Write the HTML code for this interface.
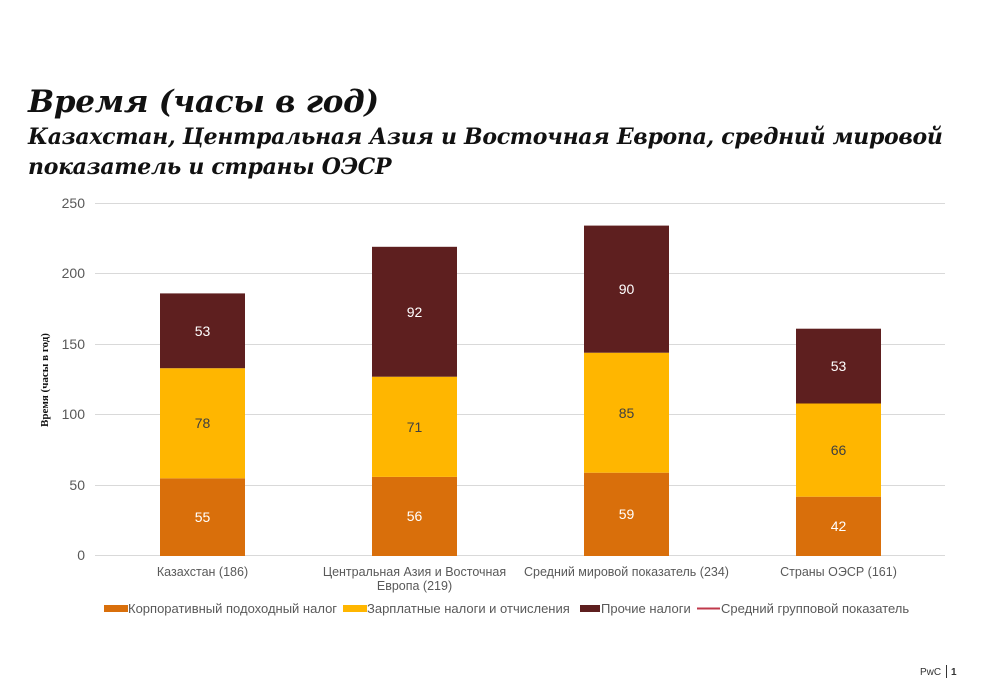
<!DOCTYPE html>
<html><head><meta charset="utf-8"><style>
body{margin:0;background:#fff;width:986px;height:697px;overflow:hidden;position:relative;font-family:"Liberation Sans",sans-serif}
.t1{position:absolute;left:28px;top:84px;font:italic bold 31px "DejaVu Serif","Liberation Serif",serif;color:#111;white-space:nowrap;letter-spacing:-0.3px}
.t2{position:absolute;left:28px;top:122px;font:italic bold 22px/30px "DejaVu Serif","Liberation Serif",serif;color:#111;white-space:nowrap;letter-spacing:-0.3px}
</style></head><body>
<div class="t1">Время (часы в год)</div>
<div class="t2">Казахстан, Центральная Азия и Восточная Европа, средний мировой<br>показатель и страны ОЭСР</div>
<svg width="986" height="697" style="position:absolute;left:0;top:0" font-family="Liberation Sans, sans-serif">
<g stroke="#d9d9d9" stroke-width="1">
<line x1="95" x2="945" y1="203.5" y2="203.5"/><line x1="95" x2="945" y1="273.5" y2="273.5"/>
<line x1="95" x2="945" y1="344.5" y2="344.5"/><line x1="95" x2="945" y1="414.5" y2="414.5"/>
<line x1="95" x2="945" y1="485.5" y2="485.5"/><line x1="95" x2="945" y1="555.5" y2="555.5"/>
</g>
<g font-size="14" fill="#595959" text-anchor="end">
<text x="85" y="208">250</text><text x="85" y="278">200</text><text x="85" y="349">150</text>
<text x="85" y="419">100</text><text x="85" y="490">50</text><text x="85" y="560">0</text>
</g>
<text transform="translate(48,380) rotate(-90)" text-anchor="middle" font-family="Liberation Serif, serif" font-weight="bold" font-size="11" fill="#111">Время (часы в год)</text>
<g>
<rect x="160" y="478.3" width="85" height="77.7" fill="#D96F0B"/>
<rect x="160" y="368.2" width="85" height="110.1" fill="#FFB600"/>
<rect x="160" y="293.4" width="85" height="74.8" fill="#5E1F1F"/>
<rect x="372" y="476.9" width="85" height="79.1" fill="#D96F0B"/>
<rect x="372" y="376.7" width="85" height="100.2" fill="#FFB600"/>
<rect x="372" y="246.8" width="85" height="129.9" fill="#5E1F1F"/>
<rect x="584" y="472.7" width="85" height="83.3" fill="#D96F0B"/>
<rect x="584" y="352.7" width="85" height="120" fill="#FFB600"/>
<rect x="584" y="225.6" width="85" height="127.1" fill="#5E1F1F"/>
<rect x="796" y="496.7" width="85" height="59.3" fill="#D96F0B"/>
<rect x="796" y="403.5" width="85" height="93.2" fill="#FFB600"/>
<rect x="796" y="328.7" width="85" height="74.8" fill="#5E1F1F"/>
</g>
<g font-size="14" text-anchor="middle">
<text x="202.5" y="522" fill="#fff">55</text><text x="202.5" y="428" fill="#404040">78</text><text x="202.5" y="336" fill="#fff">53</text>
<text x="414.5" y="521" fill="#fff">56</text><text x="414.5" y="432" fill="#404040">71</text><text x="414.5" y="317" fill="#fff">92</text>
<text x="626.5" y="519" fill="#fff">59</text><text x="626.5" y="418" fill="#404040">85</text><text x="626.5" y="294" fill="#fff">90</text>
<text x="838.5" y="531" fill="#fff">42</text><text x="838.5" y="455" fill="#404040">66</text><text x="838.5" y="371" fill="#fff">53</text>
</g>
<g font-size="12.5" fill="#595959" text-anchor="middle">
<text x="202.5" y="576">Казахстан (186)</text>
<text x="414.5" y="576">Центральная Азия и Восточная</text>
<text x="414.5" y="590">Европа (219)</text>
<text x="626.5" y="576">Средний мировой показатель (234)</text>
<text x="838.5" y="576">Страны ОЭСР (161)</text>
</g>
<g font-size="13" fill="#595959">
<rect x="104" y="605" width="24" height="7" fill="#D96F0B"/><text x="128" y="613">Корпоративный подоходный налог</text>
<rect x="343" y="605" width="24" height="7" fill="#FFB600"/><text x="367" y="613">Зарплатные налоги и отчисления</text>
<rect x="580" y="605" width="20" height="7" fill="#5E1F1F"/><text x="601" y="613">Прочие налоги</text>
<line x1="697" x2="720" y1="608.5" y2="608.5" stroke="#C0394B" stroke-width="2"/><text x="721" y="613">Средний групповой показатель</text>
</g>
<text x="920" y="675" font-size="10" fill="#333">PwC</text>
<line x1="946.5" x2="946.5" y1="665" y2="678" stroke="#333"/>
<text x="951" y="675" font-size="10" font-weight="bold" fill="#333">1</text>
</svg>
</body></html>
